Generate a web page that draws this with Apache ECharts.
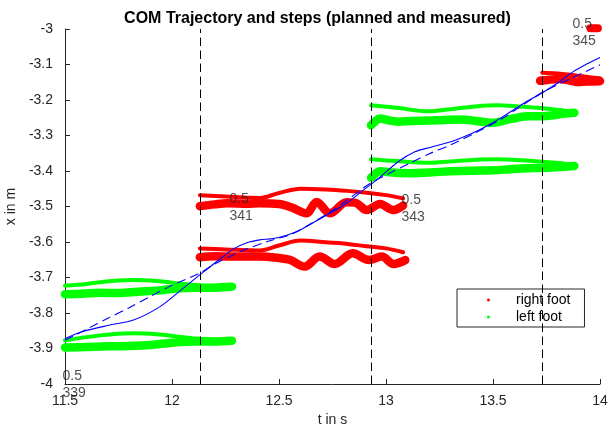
<!DOCTYPE html>
<html><head><meta charset="utf-8">
<script src="https://cdn.jsdelivr.net/npm/echarts@6/dist/echarts.min.js"></script>
<style>html,body{margin:0;padding:0;background:#fff}#c{width:610px;height:426px}</style>
</head><body><div id="c"></div>
<script>
// ---- data (t in s, x in m) ----
const stepTimes = [12.13, 12.93, 13.73];

// left foot, step 1
const left1ThinA  = [[11.5,-3.723],[11.6,-3.718],[11.72,-3.710],[11.82,-3.707],[11.93,-3.710],[12.02,-3.716],[12.12,-3.722],[12.2,-3.726]];
const left1ThickA = [[11.5,-3.747],[11.58,-3.746],[11.66,-3.743],[11.75,-3.744],[11.84,-3.740],[11.93,-3.737],[12.02,-3.731],[12.1,-3.729],[12.18,-3.729],[12.24,-3.727],[12.28,-3.726]];
const left1ThinB  = [[11.5,-3.877],[11.6,-3.868],[11.72,-3.860],[11.82,-3.857],[11.93,-3.860],[12.02,-3.866],[12.12,-3.872],[12.2,-3.875]];
const left1ThickB = [[11.5,-3.897],[11.6,-3.896],[11.7,-3.894],[11.8,-3.893],[11.9,-3.890],[12.0,-3.884],[12.1,-3.880],[12.2,-3.880],[12.28,-3.878]];

// right foot, step 2
const right2ThinA  = [[12.13,-3.468],[12.25,-3.472],[12.41,-3.476],[12.5,-3.462],[12.6,-3.450],[12.72,-3.452],[12.82,-3.456],[12.91,-3.461],[13.0,-3.468],[13.08,-3.477]];
const right2ThickA = [[12.13,-3.499],[12.2,-3.494],[12.26,-3.491],[12.35,-3.492],[12.41,-3.491],[12.5,-3.493],[12.56,-3.503],[12.628,-3.519],[12.676,-3.487],[12.738,-3.519],[12.816,-3.488],[12.855,-3.489],[12.91,-3.51],[12.972,-3.493],[13.034,-3.51],[13.08,-3.497]];
const right2ThinB  = [[12.13,-3.618],[12.25,-3.621],[12.41,-3.624],[12.5,-3.610],[12.6,-3.596],[12.72,-3.601],[12.8,-3.604],[12.91,-3.612],[13.0,-3.618],[13.08,-3.629]];
const right2ThickB = [[12.13,-3.643],[12.2,-3.640],[12.29,-3.641],[12.41,-3.641],[12.5,-3.645],[12.55,-3.650],[12.62,-3.669],[12.69,-3.641],[12.76,-3.662],[12.845,-3.632],[12.92,-3.651],[12.98,-3.641],[13.035,-3.662],[13.09,-3.651]];

// left foot, step 3
const left3ThinA  = [[12.93,-3.215],[13.05,-3.222],[13.2,-3.232],[13.3,-3.226],[13.42,-3.218],[13.52,-3.215],[13.62,-3.218],[13.735,-3.223],[13.82,-3.229],[13.875,-3.235]];
const left3ThickA = [[12.93,-3.271],[12.95,-3.260],[12.97,-3.252],[13.02,-3.258],[13.06,-3.261],[13.12,-3.259],[13.2,-3.258],[13.27,-3.256],[13.35,-3.255],[13.42,-3.259],[13.5,-3.264],[13.58,-3.254],[13.66,-3.246],[13.75,-3.245],[13.83,-3.239],[13.88,-3.236]];
const left3ThinB  = [[12.93,-3.367],[13.05,-3.372],[13.2,-3.377],[13.3,-3.373],[13.42,-3.368],[13.52,-3.367],[13.64,-3.370],[13.735,-3.374],[13.82,-3.378],[13.875,-3.383]];
const left3ThickB = [[12.93,-3.419],[12.95,-3.408],[12.97,-3.401],[13.04,-3.405],[13.12,-3.406],[13.2,-3.404],[13.3,-3.401],[13.4,-3.399],[13.5,-3.398],[13.58,-3.395],[13.66,-3.392],[13.75,-3.391],[13.83,-3.388],[13.88,-3.386]];

// right foot, step 4 and 5
const right4Thin  = [[13.73,-3.123],[13.8,-3.125],[13.88,-3.130],[13.95,-3.136],[14.0,-3.139]];
const right4Thick = [[13.72,-3.146],[13.76,-3.143],[13.81,-3.141],[13.85,-3.144],[13.89,-3.149],[13.94,-3.148],[14.0,-3.147]];
const right5Thick = [[13.955,-2.998],[13.99,-2.998]];

// COM trajectory
const comMeasured = [[11.5,-3.872],[11.584,-3.852],[11.71,-3.834],[11.82,-3.820],[11.944,-3.782],[12.053,-3.730],[12.146,-3.685],[12.22,-3.650],[12.286,-3.620],[12.35,-3.602],[12.41,-3.594],[12.473,-3.590],[12.54,-3.580],[12.598,-3.566],[12.676,-3.540],[12.738,-3.519],[12.816,-3.491],[12.894,-3.454],[12.957,-3.425],[13.057,-3.374],[13.135,-3.346],[13.21,-3.333],[13.29,-3.320],[13.37,-3.302],[13.44,-3.283],[13.505,-3.262],[13.58,-3.234],[13.65,-3.207],[13.727,-3.181],[13.8,-3.153],[13.875,-3.120],[13.94,-3.098],[14.0,-3.080]];
const comPlanned = [[11.5,-3.877],[11.6,-3.846],[11.7,-3.815],[11.8,-3.785],[11.9,-3.753],[12.0,-3.722],[12.128,-3.688],[12.2,-3.662],[12.318,-3.627],[12.45,-3.598],[12.567,-3.576],[12.65,-3.548],[12.74,-3.515],[12.83,-3.477],[12.925,-3.435],[13.02,-3.405],[13.112,-3.378],[13.2,-3.352],[13.30,-3.327],[13.42,-3.292],[13.533,-3.256],[13.63,-3.218],[13.735,-3.177],[13.87,-3.138],[14.0,-3.101]];

// text annotations
const labelT    = [11.5, 12.28, 13.084, 13.883];
const labelX    = [-4.002, -3.504, -3.506, -3.011];
const labelText = ['0.5\n339', '0.5\n341', '0.5\n343', '0.5\n345'];

// ---- chart ----
const FONT = '"Liberation Sans", Arial, Helvetica, sans-serif';
const AX = '#262626';
const RED = '#ff0000', GREEN = '#00ff00', BLUE = '#0000ff';

function foot(name, color, data, width) {
  return {
    name: name, type: 'line', data: data, showSymbol: false, smooth: 0.35, clip: false,
    color: color, silent: true, z: 2,
    lineStyle: { color: color, width: width, cap: 'round', join: 'round' }
  };
}

const series = [
  foot('left foot', GREEN, left1ThinA, 4),
  foot('left foot', GREEN, left1ThickA, 8.5),
  foot('left foot', GREEN, left1ThinB, 4),
  foot('left foot', GREEN, left1ThickB, 8.5),
  foot('right foot', RED, right2ThinA, 4),
  foot('right foot', RED, right2ThickA, 8.5),
  foot('right foot', RED, right2ThinB, 4),
  foot('right foot', RED, right2ThickB, 8.5),
  foot('left foot', GREEN, left3ThinA, 4),
  foot('left foot', GREEN, left3ThickA, 8.5),
  foot('left foot', GREEN, left3ThinB, 4),
  foot('left foot', GREEN, left3ThickB, 8.5),
  foot('right foot', RED, right4Thin, 4),
  foot('right foot', RED, right4Thick, 8.5),
  foot('right foot', RED, right5Thick, 8),
  { name: 'COM measured', type: 'line', data: comMeasured, showSymbol: false, smooth: 0.3, z: 3, silent: true,
    lineStyle: { color: BLUE, width: 1.1 } },
  { name: 'COM planned', type: 'line', data: comPlanned, showSymbol: false, smooth: 0.3, z: 3, silent: true,
    lineStyle: { color: BLUE, width: 1.1, type: [9, 5] } },
  { name: 'steps', type: 'line', data: [], z: 4, silent: true,
    markLine: { silent: true, symbol: ['none', 'none'], animation: false,
      label: { show: false },
      lineStyle: { color: '#000', width: 1, type: [8.5, 4.5] },
      data: stepTimes.map(t => ({ xAxis: t })) } },
  { name: 'labels', type: 'scatter', z: 5, silent: true, clip: false, symbolSize: 1,
    itemStyle: { color: 'rgba(0,0,0,0)' },
    data: labelT.map((t, i) => [t, labelX[i], labelText[i]]),
    label: { show: true, position: 'right', distance: 0, offset: [-3, 0],
      formatter: p => p.value[2], color: AX, fontFamily: FONT, fontSize: 14, lineHeight: 17, align: 'left' } }
];

const chart = echarts.init(document.getElementById('c'), null, { renderer: 'canvas' });
chart.setOption({
  animation: false,
  backgroundColor: '#fff',
  textStyle: { fontFamily: FONT },
  title: {
    text: 'COM Trajectory and steps (planned and measured)',
    left: 317.5, textAlign: 'center', top: 11, padding: 0,
    textStyle: { fontFamily: FONT, fontSize: 16, fontWeight: 'bold', color: '#000' }
  },
  grid: { left: 65, right: 10, top: 29, bottom: 42, containLabel: false, outerBoundsMode: 'none' },
  legend: {
    data: ['right foot', 'left foot'],
    orient: 'vertical', left: 457, top: 289,
    icon: 'circle', itemWidth: 3, itemHeight: 3, itemGap: 1,
    padding: [3, 14, 2, 30],
    borderColor: AX, borderWidth: 1, backgroundColor: '#fff',
    selectedMode: false,
    textStyle: { fontFamily: FONT, fontSize: 14, color: '#000', lineHeight: 16, padding: [0, 0, 0, 21] }
  },
  xAxis: {
    type: 'value', min: 11.5, max: 14, interval: 0.5,
    name: 't in s', nameLocation: 'middle', nameGap: 24,
    nameTextStyle: { fontFamily: FONT, fontSize: 14, color: AX },
    axisLine: { show: true, lineStyle: { color: AX, width: 1 } },
    axisTick: { show: true, inside: true, length: 5, lineStyle: { color: AX } },
    axisLabel: { color: AX, fontFamily: FONT, fontSize: 14, margin: 10 },
    splitLine: { show: false }
  },
  yAxis: {
    type: 'value', min: -4, max: -3, interval: 0.1,
    name: 'x in m', nameLocation: 'middle', nameGap: 39,
    nameTextStyle: { fontFamily: FONT, fontSize: 14, color: AX },
    axisLine: { show: true, lineStyle: { color: AX, width: 1 } },
    axisTick: { show: true, inside: true, length: 5, lineStyle: { color: AX } },
    axisLabel: { color: AX, fontFamily: FONT, fontSize: 14, margin: 12 },
    splitLine: { show: false }
  },
  series: series
});
</script></body></html>
